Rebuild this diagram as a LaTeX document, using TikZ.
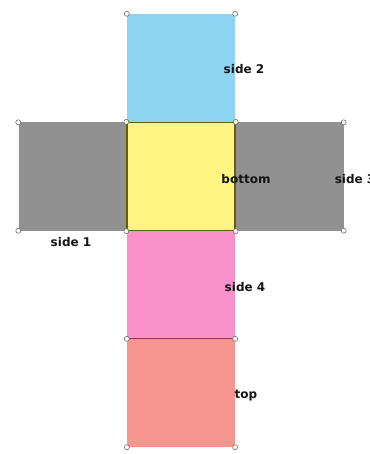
\documentclass[tikz,border=0pt]{standalone}
\usepackage{fontspec}
\newfontfamily\labfont{DejaVu Sans}
\begin{document}
\begin{tikzpicture}[x=1pt,y=-1pt,
  face/.style={minimum width=108pt,minimum height=108pt,inner sep=0pt,draw=none},
  vtx/.style={circle,draw={rgb,255:red,110;green,110;blue,110},fill=white,line width=0.6pt,minimum size=5pt,inner sep=0pt},
  lab/.style={font=\labfont\bfseries\fontsize{12}{13}\selectfont,text={rgb,255:red,20;green,20;blue,20},inner sep=0pt}]
\definecolor{skyb}{RGB}{140,212,242}
\definecolor{grayf}{RGB}{145,145,145}
\definecolor{yelf}{RGB}{255,245,130}
\definecolor{pinkf}{RGB}{250,145,202}
\definecolor{salf}{RGB}{246,150,142}
\definecolor{olive2}{RGB}{95,95,20}
\definecolor{plum2}{RGB}{150,50,90}
\useasboundingbox[fill=white] (0,0) rectangle (369,454);
% faces
\node[face,fill=skyb] (s2) at (181,68) {};
\node[face,fill=grayf] (s1) at (72.5,176.5) {};
\node[face,fill=grayf] (s3) at (289.5,176.5) {};
\node[face,fill=pinkf] (s4) at (181,285) {};
\node[face,fill=salf] (tp) at (181,393) {};
\node[face,fill=yelf,draw=olive2,line width=1.3pt] (bt) at (181,176.5) {};
\draw[plum2,line width=1.2pt] (tp.north west) -- (tp.north east);
% labels
\node[lab] (l2) at (244,69) {side 2};
\node[lab] (lb) at (246,179) {bottom};
\node[lab] (l3) at (355,179) {side 3};
\node[lab] (l1) at (71,242) {side 1};
\node[lab] (l4) at (245,287) {side 4};
\node[lab] (lt) at (246,396) {top};
% vertices
\node[vtx] (v1) at (s2.north west) {};
\node[vtx] (v2) at (s2.north east) {};
\node[vtx] (v3) at (s1.north west) {};
\node[vtx] (v4) at (bt.north west) {};
\node[vtx] (v5) at (bt.north east) {};
\node[vtx] (v6) at (s3.north east) {};
\node[vtx] (v7) at (s1.south west) {};
\node[vtx] (v8) at (bt.south west) {};
\node[vtx] (v9) at (bt.south east) {};
\node[vtx] (v10) at (s3.south east) {};
\node[vtx] (v11) at (tp.north west) {};
\node[vtx] (v12) at (tp.north east) {};
\node[vtx] (v13) at (tp.south west) {};
\node[vtx] (v14) at (tp.south east) {};
\end{tikzpicture}
\end{document}
